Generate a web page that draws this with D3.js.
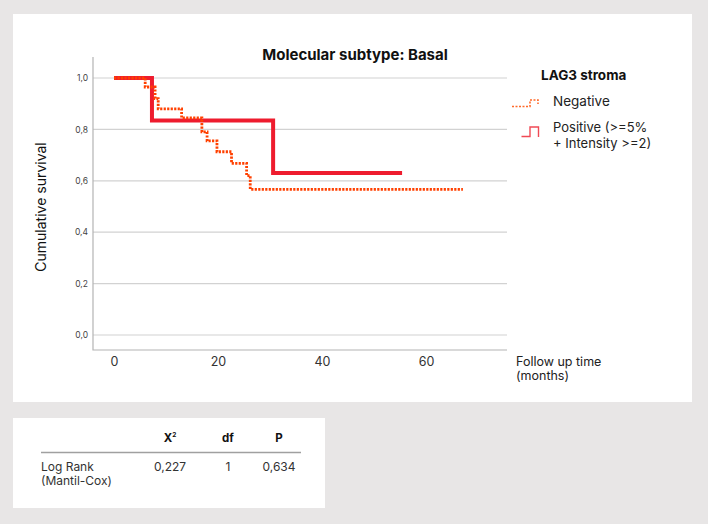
<!DOCTYPE html>
<html>
<head>
<meta charset="utf-8">
<script src="https://cdn.jsdelivr.net/npm/d3@7"></script>
<style>
    body { margin: 0; background: #e8e6e6; }
    svg { display: block; font-family: Inter, "Open Sans", sans-serif; }
</style>
</head>
<body>
<div id="chart-container"></div>
<script>
// Kaplan-Meier steps
const negativeTimes = [0, 6, 7.9, 8.5, 13, 16.9, 17.9, 19.8, 22.6, 25.5, 26.2, 67.1];
const negativeSurvival = [1, 0.965, 0.92, 0.88, 0.845, 0.79, 0.755, 0.713, 0.668, 0.62, 0.567, 0.567];
const positiveTimes = [0, 7.3, 30.6, 55.4];
const positiveSurvival = [1, 0.835, 0.63, 0.63];

const xTicks = [0, 20, 40, 60];
const yTicks = [0, 0.2, 0.4, 0.6, 0.8, 1.0];

const legendLabels = ["Negative", ["Positive (>=5%", "+ Intensity >=2)"]];
const tableHeaders = ["X", "df", "P"];
const tableRowLabel = ["Log Rank", "(Mantil-Cox)"];
const tableValues = ["0,227", "1", "0,634"];

function createChart(elementId) {
    const width = 708;
    const height = 524;

    // plot frame
    const frame = { left: 93, right: 507, top: 57, bottom: 350 };

    const svg = d3.select(elementId).append('svg').attr('width', width).attr('height', height);

    svg.append('rect').attr('width', width).attr('height', height).attr('fill', '#e8e6e6');

    // white panels
    svg.append('rect').attr('x', 13).attr('y', 14).attr('width', 679).attr('height', 388).attr('fill', '#fff');
    svg.append('rect').attr('x', 13).attr('y', 418).attr('width', 312).attr('height', 90).attr('fill', '#fff');

    const x = d3.scaleLinear().domain([0, 60]).range([114, 426]);
    const y = d3.scaleLinear().domain([0, 1]).range([335, 78]);

    // gridlines
    svg.append('g')
        .selectAll('line')
        .data(yTicks)
        .join('line')
        .attr('x1', frame.left)
        .attr('x2', frame.right)
        .attr('y1', d => y(d))
        .attr('y2', d => y(d))
        .attr('stroke', '#d2d2d2')
        .attr('stroke-width', 1.2);

    // axis frame (L shape)
    svg.append('path')
        .attr('d', `M${frame.left},${frame.top}V${frame.bottom}H${frame.right}`)
        .attr('fill', 'none')
        .attr('stroke', '#b4b4b4')
        .attr('stroke-width', 1.2);

    // y tick labels
    const yAxis = d3.axisLeft(y)
        .tickValues(yTicks)
        .tickSize(0)
        .tickPadding(5)
        .tickFormat(d => d3.format('.1f')(d).replace('.', ','));
    svg.append('g')
        .attr('transform', `translate(${frame.left},0)`)
        .call(yAxis)
        .call(g => g.select('.domain').remove())
        .selectAll('text')
        .attr('font-size', 8.5)
        .attr('fill', '#444')
        .attr('font-family', 'Inter, sans-serif');

    // x tick labels
    const xAxis = d3.axisBottom(x)
        .tickValues(xTicks)
        .tickSize(0)
        .tickPadding(7);
    svg.append('g')
        .attr('transform', `translate(0,${frame.bottom})`)
        .call(xAxis)
        .call(g => g.select('.domain').remove())
        .selectAll('text')
        .attr('font-size', 12.5)
        .attr('fill', '#333')
        .attr('font-family', 'Inter, sans-serif');

    // survival curves
    const line = d3.line()
        .x(d => x(d[0]))
        .y(d => y(d[1]))
        .curve(d3.curveStepAfter);

    svg.append('path')
        .datum(positiveTimes.map((t, i) => [t, positiveSurvival[i]]))
        .attr('d', line)
        .attr('fill', 'none')
        .attr('stroke', '#ee1c2e')
        .attr('stroke-width', 4);

    svg.append('path')
        .datum(negativeTimes.map((t, i) => [t, negativeSurvival[i]]))
        .attr('d', line)
        .attr('fill', 'none')
        .attr('stroke', '#ff4000')
        .attr('stroke-width', 2.8)
        .attr('stroke-dasharray', '2.2,1.3');

    // title
    svg.append('text')
        .attr('x', 355)
        .attr('y', 60)
        .attr('text-anchor', 'middle')
        .attr('font-size', 15)
        .attr('font-weight', 'bold')
        .attr('fill', '#111')
        .text('Molecular subtype: Basal');

    // axis titles
    svg.append('text')
        .attr('transform', 'translate(46,207) rotate(-90)')
        .attr('text-anchor', 'middle')
        .attr('font-size', 14)
        .attr('fill', '#111')
        .text('Cumulative survival');

    const xTitle = svg.append('text')
        .attr('x', 516)
        .attr('y', 366)
        .attr('font-size', 12.5)
        .attr('fill', '#222');
    xTitle.append('tspan').attr('x', 516).text('Follow up time');
    xTitle.append('tspan').attr('x', 516).attr('dy', 13.5).text('(months)');

    // legend
    svg.append('text')
        .attr('x', 541)
        .attr('y', 80)
        .attr('font-size', 13.5)
        .attr('font-weight', 'bold')
        .attr('fill', '#111')
        .text('LAG3 stroma');

    svg.append('path')
        .attr('d', 'M512,106.5H530V100H538V104')
        .attr('fill', 'none')
        .attr('stroke', '#ff6a2a')
        .attr('stroke-width', 1.6)
        .attr('stroke-dasharray', '2,1.5');

    svg.append('path')
        .attr('d', 'M521.5,136.5H530V127H538.5V137')
        .attr('fill', 'none')
        .attr('stroke', '#f04a55')
        .attr('stroke-width', 1.4);

    svg.append('text')
        .attr('x', 553)
        .attr('y', 106)
        .attr('font-size', 13.5)
        .attr('fill', '#222')
        .text(legendLabels[0]);

    legendLabels[1].forEach((s, i) => {
        svg.append('text')
            .attr('x', 553)
            .attr('y', 132 + i * 15.5)
            .attr('font-size', 13)
            .attr('fill', '#222')
            .text(s);
    });

    // statistics table
    const colX = [170, 228, 279];
    const header = svg.append('g')
        .attr('font-size', 11.5)
        .attr('font-weight', 'bold')
        .attr('fill', '#111')
        .attr('text-anchor', 'middle');
    header.selectAll('text')
        .data(tableHeaders)
        .join('text')
        .attr('x', (d, i) => colX[i])
        .attr('y', 442)
        .each(function (d, i) {
            const t = d3.select(this);
            t.append('tspan').text(d);
            if (i === 0) {
                t.append('tspan').attr('font-size', 6.5).attr('dy', -5).text('2');
            }
        });

    svg.append('line')
        .attr('x1', 41)
        .attr('x2', 301)
        .attr('y1', 452.5)
        .attr('y2', 452.5)
        .attr('stroke', '#a0a0a0')
        .attr('stroke-width', 1.5);

    tableRowLabel.forEach((s, i) => {
        svg.append('text')
            .attr('x', 41)
            .attr('y', 471 + i * 13.5)
            .attr('font-size', 12)
            .attr('fill', '#333')
            .text(s);
    });

    svg.append('g')
        .attr('font-size', 12)
        .attr('fill', '#333')
        .attr('text-anchor', 'middle')
        .selectAll('text')
        .data(tableValues)
        .join('text')
        .attr('x', (d, i) => colX[i])
        .attr('y', 471)
        .text(d => d);
}

createChart('#chart-container');
</script>
</body>
</html>
